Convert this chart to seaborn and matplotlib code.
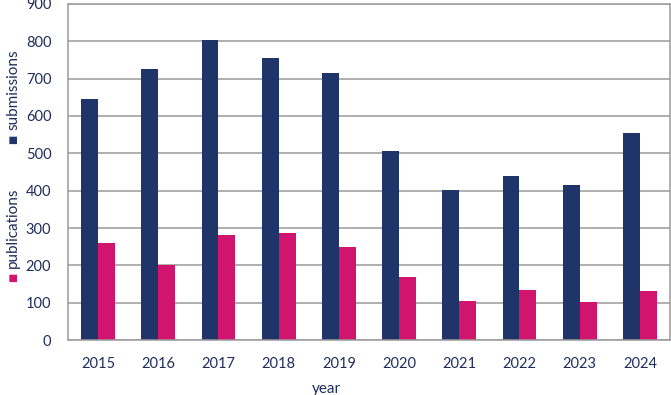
import pandas as pd
import matplotlib
matplotlib.use("Agg")
import matplotlib.pyplot as plt
import seaborn as sns

# values
years = ["2015", "2016", "2017", "2018", "2019", "2020", "2021", "2022", "2023", "2024"]
submissions = [646, 726, 803, 755, 714, 505, 402, 439, 415, 554]
publications = [260, 200, 280, 287, 249, 170, 104, 134, 101, 131]
series_names = ["submissions", "publications"]
series_colors = ["#1f3469", "#d1146d"]
y_ticks = [0, 100, 200, 300, 400, 500, 600, 700, 800, 900]

text_color = "#1f2d5c"
grid_color = "#9a9a9a"

df = pd.DataFrame({
    "year": years * 2,
    "value": submissions + publications,
    "series": [series_names[0]] * len(years) + [series_names[1]] * len(years),
})

sns.set_theme(style="white")
plt.rcParams["font.family"] = ["Lato", "DejaVu Sans"]

fig = plt.figure(figsize=(6.71, 3.95), dpi=100)
ax = fig.add_axes([0.1013, 0.1392, 0.8972, 0.8507])

sns.barplot(data=df, x="year", y="value", hue="series", order=years,
            hue_order=series_names, palette=series_colors, width=0.56,
            gap=0, linewidth=0, saturation=1, legend=False, ax=ax)

ax.set_ylim(0, 900)
ax.set_yticks(y_ticks)
ax.set_xlim(-0.5, len(years) - 0.5)
ax.yaxis.grid(True, color=grid_color, linewidth=1.1)
ax.set_axisbelow(True)
for side in ["left", "right", "top", "bottom"]:
    ax.spines[side].set_visible(True)
    ax.spines[side].set_color(grid_color)
    ax.spines[side].set_linewidth(1.1)

ax.tick_params(axis="both", length=0, labelsize=10.5, labelcolor=text_color)
ax.tick_params(axis="x", pad=12)
ax.tick_params(axis="y", pad=12)
ax.set_ylabel("")
ax.set_xlabel("year", fontsize=11, color=text_color)
# "year" sits a little left of the axes centre in the reference
ax.xaxis.set_label_coords(0.43, -0.125)
ax.xaxis.label.set_va("top")

# rotated legend on the left edge
legend_spots = [(43, 139), (184, 277)]  # (text top, marker centre) in pixels from top
H = 395.0
for name, color, (top_px, mark_px) in zip(series_names, series_colors, legend_spots):
    fig.text(13 / 671, 1 - (mark_px - 9) / H, name, rotation=90, ha="center",
             va="bottom", fontsize=11, color=text_color)
    fig.text(13 / 671, 1 - mark_px / H, "\u25a0", rotation=90, ha="center",
             va="center", fontsize=7, color=color, family="DejaVu Sans")

fig.savefig("out.png", dpi=100)
